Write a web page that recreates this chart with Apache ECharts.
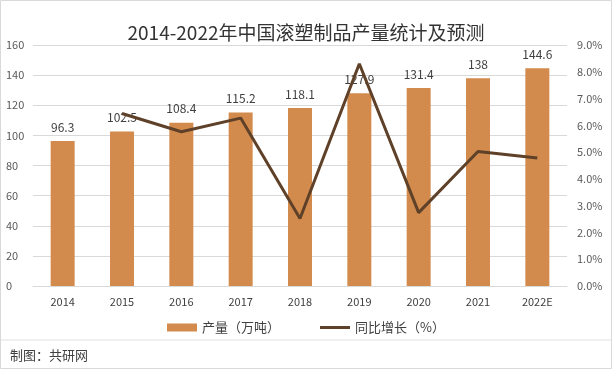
<!DOCTYPE html>
<html><head><meta charset="utf-8">
<script src="https://cdn.jsdelivr.net/npm/echarts@6/dist/echarts.min.js"></script>
<style>html,body{margin:0;padding:0;background:#fff}#c{width:612px;height:369px}</style>
</head><body><div id="c"></div>
<script>
const categories = ['2014','2015','2016','2017','2018','2019','2020','2021','2022E'];
const production = [96.3,102.5,108.4,115.2,118.1,127.9,131.4,138,144.6];
const growth = [null,6.44,5.76,6.27,2.52,8.30,2.74,5.02,4.78];
const leftTicks = {min:0,max:160,interval:20};
const rightTicks = {min:0,max:9,interval:1};
const chart = echarts.init(document.getElementById('c'));
const font = '"Microsoft YaHei","Noto Sans CJK SC",sans-serif';
chart.setOption({
  animation:false,
  textStyle:{fontFamily:font},
  title:{text:'2014-2022年中国滚塑制品产量统计及预测',left:'center',top:18,
    textStyle:{fontSize:19,fontWeight:'normal',color:'#333333',fontFamily:font}},
  grid:{left:33,right:45,top:45,bottom:83},
  legend:{bottom:30,itemGap:40,itemWidth:30,itemHeight:8,
    textStyle:{fontSize:13,color:'#404040',fontFamily:font},
    data:[{name:'产量（万吨）',icon:'rect'},{name:'同比增长（%）',icon:'path://M0,0 L30,0 L30,3 L0,3 Z'}]},
  xAxis:{type:'category',data:categories,
    axisLine:{lineStyle:{color:'#d9d9d9'}},axisTick:{show:false},
    axisLabel:{color:'#404040',fontSize:11,margin:10}},
  yAxis:[
    {type:'value',...leftTicks,position:'left',
      axisLabel:{color:'#595959',fontSize:11,margin:27,align:'left'},
      splitLine:{lineStyle:{color:'#d9d9d9'}},axisLine:{show:false},axisTick:{show:false}},
    {type:'value',...rightTicks,position:'right',
      axisLabel:{color:'#595959',fontSize:11,margin:10,formatter:v=>v.toFixed(1)+'%'},
      splitLine:{show:false},axisLine:{show:false},axisTick:{show:false}}
  ],
  series:[
    {name:'产量（万吨）',type:'bar',data:production,barWidth:24,
      itemStyle:{color:'#D38B4D'},
      label:{show:true,position:'top',color:'#404040',fontSize:12,distance:8}},
    {name:'同比增长（%）',type:'line',yAxisIndex:1,data:growth,
      showSymbol:false,symbol:'none',lineStyle:{color:'#5E4128',width:3},itemStyle:{color:'#5E4128'}}
  ],
  graphic:[
    {type:'rect',shape:{x:0.5,y:0.5,width:611,height:368},style:{fill:'none',stroke:'#d9d9d9',lineWidth:1}},
    {type:'line',shape:{x1:1,y1:340,x2:611,y2:340},style:{stroke:'#e0e0e0',lineWidth:1}},
    {type:'text',left:10,top:349,style:{text:'制图：共研网',fontSize:13,fill:'#404040',fontFamily:font}}
  ]
});
</script></body></html>
